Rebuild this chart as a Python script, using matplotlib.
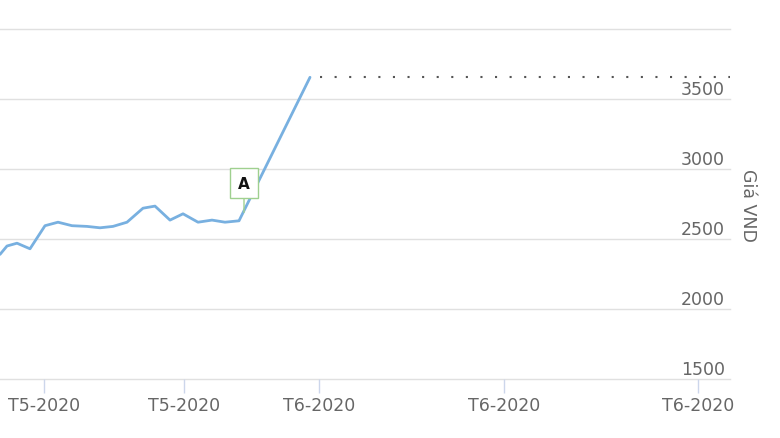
import matplotlib.pyplot as plt
from matplotlib.transforms import blended_transform_factory, offset_copy

# time axis position and price in VND
thoi_gian = [0, 7, 17, 30, 45, 58, 72, 87, 100, 113, 127, 143, 155, 170, 183,
             198, 212, 225, 239, 310]
gia = [2390, 2450, 2470, 2430, 2595, 2620, 2595, 2590, 2580, 2590, 2620, 2720,
       2735, 2635, 2680, 2620, 2635, 2620, 2630, 3655]

muc_ngang = 3655          # dotted level line
muc_ngang_tu = 320        # where dotted line starts

nhan_x_vitri = [44, 184, 319, 504, 698]
nhan_x = ['T5-2020', 'T5-2020', 'T6-2020', 'T6-2020', 'T6-2020']
moc_y = [1500, 2000, 2500, 3000, 3500, 4000]
nhan_y = [1500, 2000, 2500, 3000, 3500]

ghi_chu_x = 244
ghi_chu_y = 2690

fig = plt.figure(figsize=(7.8, 4.39), dpi=100)
ax = fig.add_axes([0, 59 / 439, 730 / 780, 350 / 439])
ax.set_xlim(0, 730)
ax.set_ylim(1500, 4000)

for v in moc_y:
    ax.axhline(v, color='#e0e0e0', lw=1, zorder=0, clip_on=False)

ax.plot(thoi_gian, gia, color='#78b0e0', lw=2.0, zorder=3,
        solid_joinstyle='round', solid_capstyle='round')
ax.plot([muc_ngang_tu, 730], [muc_ngang, muc_ngang], color='#555555', lw=1.5,
        linestyle=(0, (1, 6)), zorder=2)

ax.annotate('A', xy=(ghi_chu_x, ghi_chu_y), xytext=(0, 21),
            textcoords='offset points', ha='center', va='center',
            fontsize=11, fontweight='bold', color='#111111',
            bbox=dict(boxstyle='square,pad=0.5', fc='white', ec='#9fd08f', lw=1),
            arrowprops=dict(arrowstyle='-', color='#9fd08f', lw=1,
                            shrinkA=0, shrinkB=0), zorder=5)

for s in ax.spines.values():
    s.set_visible(False)
ax.set_yticks([])
ax.set_xticks(nhan_x_vitri)
ax.set_xticklabels(nhan_x, fontsize=12.5, color='#666666')
ax.tick_params(axis='x', length=10, width=1, color='#ccd6eb', pad=2)

# y labels sit inside on the right, just above each gridline
trans = blended_transform_factory(ax.transAxes, ax.transData)
trans = offset_copy(trans, fig=fig, x=-5, y=1, units='dots')
for v in nhan_y:
    ax.text(1.0, v, str(v), transform=trans, ha='right', va='bottom',
            fontsize=12.5, color='#666666')

ax.text(748 / 730, 0.5, 'Giá VND', transform=ax.transAxes, rotation=270,
        ha='center', va='center', fontsize=12.5, color='#666666')

fig.savefig('out.png', dpi=100)
